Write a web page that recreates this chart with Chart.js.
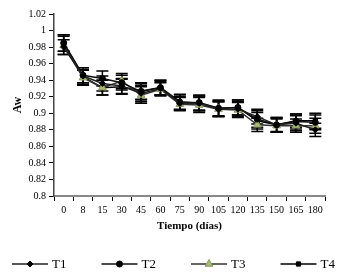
<!DOCTYPE html>
<html>
<head>
<meta charset="utf-8">
<script src="https://cdn.jsdelivr.net/npm/chart.js@4.4.0/dist/chart.umd.min.js"></script>
<style>
html, body { margin: 0; padding: 0; background: #fff; }
#wrap { width: 348px; height: 276px; }
</style>
</head>
<body>
<div id="wrap"><canvas id="awChart"></canvas></div>
<script>
var days = ["0", "8", "15", "30", "45", "60", "75", "90", "105", "120", "135", "150", "165", "180"];

var t1 = [0.980, 0.945, 0.936, 0.933, 0.924, 0.930, 0.912, 0.912, 0.905, 0.905, 0.896, 0.886, 0.888, 0.880];
var t2 = [0.985, 0.946, 0.942, 0.937, 0.926, 0.931, 0.913, 0.913, 0.906, 0.907, 0.893, 0.886, 0.890, 0.889];
var t3 = [0.982, 0.943, 0.931, 0.939, 0.922, 0.929, 0.911, 0.910, 0.905, 0.904, 0.886, 0.885, 0.885, 0.885];
var t4 = [0.985, 0.944, 0.931, 0.932, 0.927, 0.931, 0.914, 0.912, 0.906, 0.907, 0.891, 0.886, 0.891, 0.891];

var t1Err = [0.009, 0.008, 0.009, 0.009, 0.010, 0.008, 0.008, 0.009, 0.009, 0.009, 0.009, 0.008, 0.009, 0.008];
var t2Err = [0.010, 0.009, 0.009, 0.009, 0.010, 0.009, 0.009, 0.009, 0.010, 0.009, 0.010, 0.009, 0.009, 0.009];
var t3Err = [0.011, 0.009, 0.009, 0.009, 0.010, 0.008, 0.008, 0.009, 0.009, 0.009, 0.008, 0.008, 0.008, 0.009];
var t4Err = [0.010, 0.009, 0.009, 0.009, 0.010, 0.009, 0.009, 0.009, 0.009, 0.009, 0.010, 0.009, 0.008, 0.009];

var yMin = 0.8, yMax = 1.02, yStep = 0.02;

var serif = "'Liberation Serif', 'Times New Roman', serif";

// error bars, drawn from the y scale
var errorBars = {
    id: 'errorBars',
    beforeDatasetsDraw: function(chart) {
        var ctx = chart.ctx;
        var yScale = chart.scales.y;
        ctx.save();
        ctx.strokeStyle = '#000';
        ctx.lineWidth = 1.5;
        chart.data.datasets.forEach(function(ds, i) {
            var meta = chart.getDatasetMeta(i);
            meta.data.forEach(function(pt, j) {
                var v = ds.data[j], e = ds.err[j];
                var yTop = yScale.getPixelForValue(v + e);
                var yBot = yScale.getPixelForValue(v - e);
                ctx.beginPath();
                ctx.moveTo(pt.x, yTop); ctx.lineTo(pt.x, yBot);
                ctx.moveTo(pt.x - 6, yTop); ctx.lineTo(pt.x + 6, yTop);
                ctx.moveTo(pt.x - 6, yBot); ctx.lineTo(pt.x + 6, yBot);
                ctx.stroke();
            });
        });
        ctx.restore();
    }
};

// legend below the chart: line + marker + label
var lineLegend = {
    id: 'lineLegend',
    afterDraw: function(chart) {
        var ctx = chart.ctx;
        ctx.save();
        chart.data.datasets.forEach(function(ds, i) {
            var x0 = 12 + i * 89.5, y = 264;
            ctx.strokeStyle = ds.borderColor;
            ctx.lineWidth = 1.5;
            ctx.beginPath();
            ctx.moveTo(x0, y); ctx.lineTo(x0 + 36, y);
            ctx.stroke();
            ctx.fillStyle = ds.pointBackgroundColor;
            ctx.strokeStyle = ds.pointBorderColor;
            ctx.lineWidth = 1;
            Chart.helpers.drawPoint(ctx, { pointStyle: ds.pointStyle, radius: ds.pointRadius, borderWidth: 1 }, x0 + 18, y);
            ctx.fillStyle = '#000';
            ctx.font = '13px ' + serif;
            ctx.textBaseline = 'middle';
            ctx.fillText(ds.label, x0 + 40, y + 1);
        });
        ctx.restore();
    }
};

function series(label, data, err, style, radius, fill, border, line) {
    return {
        label: label,
        data: data,
        err: err,
        borderColor: line,
        borderWidth: 1.5,
        pointStyle: style,
        pointRadius: radius,
        pointBackgroundColor: fill,
        pointBorderColor: border,
        pointBorderWidth: 1,
        tension: 0
    };
}

var awChart = new Chart(document.getElementById('awChart'), {
    type: 'line',
    data: {
        labels: days,
        datasets: [
            series('T1', t1, t1Err, 'rectRot', 3, '#000', '#000', '#222'),
            series('T2', t2, t2Err, 'circle', 3, '#000', '#000', '#111'),
            series('T3', t3, t3Err, 'triangle', 4.5, '#a9b97a', '#8a9a5a', '#333'),
            series('T4', t4, t4Err, 'rect', 3, '#000', '#000', '#000')
        ]
    },
    options: {
        responsive: true,
        maintainAspectRatio: false,
        animation: false,
        layout: { padding: { left: 0, top: 14, right: 23, bottom: 40 } },
        plugins: {
            legend: { display: false },
            tooltip: { enabled: false }
        },
        scales: {
            x: {
                offset: true,
                grid: {
                    display: true,
                    drawOnChartArea: false,
                    drawTicks: true,
                    tickLength: 5,
                    color: '#000',
                    offset: true
                },
                border: { color: '#888', width: 2 },
                ticks: {
                    color: '#000',
                    font: { family: serif, size: 10 },
                    padding: 3,
                    maxRotation: 0,
                    autoSkip: false
                },
                title: {
                    display: true,
                    text: 'Tiempo (días)',
                    color: '#000',
                    font: { family: serif, size: 11, weight: 'bold' },
                    padding: { top: 0, bottom: 3 }
                },
                afterFit: function(scale) { scale.height = 40; }
            },
            y: {
                min: yMin,
                max: yMax,
                grid: {
                    display: true,
                    drawOnChartArea: false,
                    drawTicks: true,
                    tickLength: 5,
                    color: '#000'
                },
                border: { color: '#444', width: 1.5 },
                ticks: {
                    stepSize: yStep,
                    color: '#000',
                    font: { family: serif, size: 10 },
                    padding: 3,
                    callback: function(v) { return String(Number(v.toFixed(2))); }
                },
                title: {
                    display: true,
                    text: 'Aw',
                    color: '#000',
                    font: { family: serif, size: 12, weight: 'bold' },
                    padding: { top: 11, bottom: 0 }
                },
                afterFit: function(scale) { scale.width = 54; }
            }
        }
    },
    plugins: [errorBars, lineLegend]
});
</script>
</body>
</html>
